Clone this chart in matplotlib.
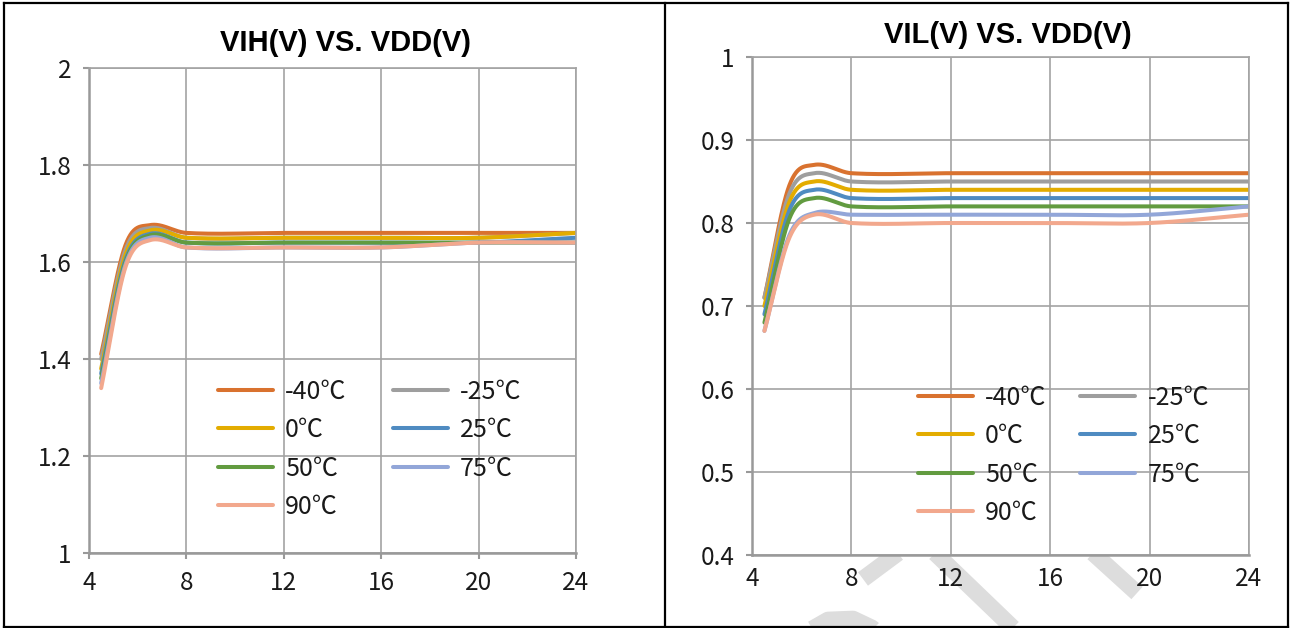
import numpy as np
import matplotlib
matplotlib.use('Agg')
import matplotlib.pyplot as plt
from matplotlib.lines import Line2D
from matplotlib.ticker import FormatStrFormatter

# data points (VDD in V)
vdd = [4.5, 5.5, 6.5, 8, 12, 16, 20, 24]
temps = ['-40℃', '-25℃', '0℃', '25℃', '50℃', '75℃', '90℃']
colors = ['#d9722f', '#9e9e9e', '#e3ac00', '#4f8bc1', '#629b40', '#92a6d8', '#f2a88d']

# VIH(V)
vih_n40 = [1.41, 1.635, 1.676, 1.66, 1.66, 1.66, 1.66, 1.66]
vih_n25 = [1.40, 1.625, 1.67, 1.65, 1.65, 1.65, 1.65, 1.66]
vih_0 = [1.38, 1.615, 1.665, 1.65, 1.65, 1.65, 1.65, 1.66]
vih_25 = [1.37, 1.605, 1.658, 1.64, 1.64, 1.64, 1.64, 1.65]
vih_50 = [1.36, 1.60, 1.655, 1.64, 1.64, 1.64, 1.64, 1.64]
vih_75 = [1.35, 1.595, 1.65, 1.63, 1.63, 1.63, 1.64, 1.64]
vih_90 = [1.34, 1.59, 1.645, 1.63, 1.63, 1.63, 1.64, 1.64]

# VIL(V)
vil_n40 = [0.71, 0.845, 0.87, 0.86, 0.86, 0.86, 0.86, 0.86]
vil_n25 = [0.71, 0.835, 0.86, 0.85, 0.85, 0.85, 0.85, 0.85]
vil_0 = [0.70, 0.825, 0.85, 0.84, 0.84, 0.84, 0.84, 0.84]
vil_25 = [0.69, 0.815, 0.84, 0.83, 0.83, 0.83, 0.83, 0.83]
vil_50 = [0.68, 0.805, 0.83, 0.82, 0.82, 0.82, 0.82, 0.82]
vil_75 = [0.67, 0.785, 0.812, 0.81, 0.81, 0.81, 0.81, 0.82]
vil_90 = [0.67, 0.782, 0.81, 0.80, 0.80, 0.80, 0.80, 0.81]

vih = [vih_n40, vih_n25, vih_0, vih_25, vih_50, vih_75, vih_90]
vil = [vil_n40, vil_n25, vil_0, vil_25, vil_50, vil_75, vil_90]

W, H = 1290, 628
CJK = ['Noto Sans CJK SC', 'DejaVu Sans']
TXT = '#1a1a1a'
GRID = '#a3a3a3'


def smooth(xs, ys, n=60):
    # smoothed line through the points (hermite, catmull-rom slopes)
    x = np.asarray(xs, float)
    y = np.asarray(ys, float)
    m = np.empty_like(y)
    m[1:-1] = (y[2:] - y[:-2]) / (x[2:] - x[:-2])
    m[0] = (y[1] - y[0]) / (x[1] - x[0])
    m[-1] = (y[-1] - y[-2]) / (x[-1] - x[-2])
    px_, py_ = [], []
    for i in range(len(x) - 1):
        h = x[i + 1] - x[i]
        t = np.linspace(0, 1, n)
        if i > 0:
            t = t[1:]
        h00 = 2 * t**3 - 3 * t**2 + 1
        h10 = t**3 - 2 * t**2 + t
        h01 = -2 * t**3 + 3 * t**2
        h11 = t**3 - t**2
        px_.append(x[i] + t * h)
        py_.append(h00 * y[i] + h10 * h * m[i] + h01 * y[i + 1] + h11 * h * m[i + 1])
    return np.concatenate(px_), np.concatenate(py_)


def px(x0, y0, x1, y1):
    return [x0 / W, (H - y0) / H, (x1 - x0) / W, (y0 - y1) / H]


def panel(rect, series, ylim, yticks, title, title_xy, leg_xy, colsp, xtick_dir):
    ax = fig.add_axes(rect)
    for ys, c, lab in zip(series, colors, temps):
        sx, sy = smooth(vdd, ys)
        ax.plot(sx, sy, color=c, lw=2.9, label=lab, solid_capstyle='round')
    ax.set_xlim(4, 24)
    ax.set_ylim(*ylim)
    ax.set_xticks([4, 8, 12, 16, 20, 24])
    ax.set_yticks(yticks)
    ax.yaxis.set_major_formatter(FormatStrFormatter('%g'))
    ax.grid(True, color=GRID, lw=1.2)
    ax.set_axisbelow(True)
    for sp in ['top', 'right']:
        ax.spines[sp].set_color(GRID)
        ax.spines[sp].set_linewidth(1.2)
    for sp in ['left', 'bottom']:
        ax.spines[sp].set_color('#999999')
        ax.spines[sp].set_linewidth(1.8)
    ax.tick_params(axis='y', length=4.5, width=1.5, color='#999999', pad=8)
    ax.tick_params(axis='x', length=4.5 if xtick_dir == 'out' else 0, width=1.5,
                   color='#999999', direction=xtick_dir, pad=8)
    for lb in ax.get_xticklabels() + ax.get_yticklabels():
        lb.set_family(CJK)
        lb.set_fontsize(17.5)
        lb.set_color(TXT)
    fig.text(title_xy[0] / W, 1 - title_xy[1] / H, title, ha='center', va='center',
             family='Liberation Sans', weight='bold', fontsize=21, color='black')
    h, l = ax.get_legend_handles_labels()
    order = [0, 2, 4, 6, 1, 3, 5]
    ax.legend([h[i] for i in order], [l[i] for i in order], ncol=2,
              loc='upper left', bbox_to_anchor=(leg_xy[0] / W, 1 - leg_xy[1] / H),
              bbox_transform=fig.transFigure, frameon=False, borderpad=0,
              prop={'family': CJK, 'size': 18}, handlelength=2.2, handletextpad=0.5,
              columnspacing=colsp, labelspacing=0.5, labelcolor=TXT)
    return ax


fig = plt.figure(figsize=(W / 100, H / 100), dpi=100)

panel(px(89, 553, 576, 68), vih, (1, 2), np.arange(1, 2.01, 0.2),
      'VIH(V) VS. VDD(V)', (346, 43), (205, 366), 1.85, 'out')
panel(px(752, 555, 1249, 57), vil, (0.4, 1), np.arange(0.4, 1.001, 0.1),
      'VIL(V) VS. VDD(V)', (1008, 35), (905, 372), 1.35, 'in')

# faint watermark strokes under the right chart
wm = dict(color='#dddddd', lw=12, solid_capstyle='butt', zorder=-1)
for xs, ys in [([898, 863], [553, 579]),
               ([935, 1013], [553, 628]),
               ([1093, 1137], [553, 593]),
               ([800, 828, 853, 872, 880], [636, 620, 619, 628, 636])]:
    fig.add_artist(Line2D([x / W for x in xs], [1 - y / H for y in ys], **wm))

# table borders
bd = dict(color='black', lw=1.6, zorder=10)
for xs, ys in [([4, 1288], [3, 3]), ([4, 1288], [627, 627]),
               ([4, 4], [3, 627]), ([1288, 1288], [3, 627]),
               ([665, 665], [3, 627])]:
    fig.add_artist(Line2D([x / W for x in xs], [1 - y / H for y in ys], **bd))

fig.savefig('out.png', dpi=100, facecolor='white')
